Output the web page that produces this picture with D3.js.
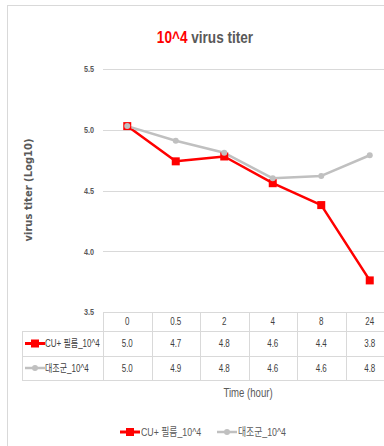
<!DOCTYPE html>
<html>
<head>
<meta charset="utf-8">
<script src="https://cdn.jsdelivr.net/npm/d3@7"></script>
<style>
  html, body { margin: 0; padding: 0; background: #fff; }
  svg { display: block; }
  text { font-family: "Liberation Sans", "Noto Sans CJK KR", sans-serif; }
  text.ytitle { font-family: "DejaVu Sans", sans-serif; }
</style>
</head>
<body>
<script>
// Time points (hours) and measured titers (log10)
const categories = ["0", "0.5", "2", "4", "8", "24"];
const seriesNames = ["CU+ 필름_10^4", "대조군_10^4"];
const cuFilm = [5.03, 4.74, 4.78, 4.56, 4.38, 3.76];
const control = [5.03, 4.91, 4.81, 4.60, 4.62, 4.79];
const yTicks = [3.5, 4.0, 4.5, 5.0, 5.5];

const W = 384, H = 446;
const NARROW = 0.8; // horizontal squeeze for a condensed face
const svg = d3.select("body").append("svg").attr("width", W).attr("height", H);

// condensed text drawn at (x, y)
function ntext(parent, x, y, txt, size, anchor, fill, weight) {
  return parent.append("text")
    .attr("transform", `translate(${x},${y}) scale(${NARROW},1)`)
    .attr("text-anchor", anchor).attr("font-size", size).attr("fill", fill)
    .attr("font-weight", weight || "normal").attr("dy", "0.35em").text(txt);
}

// chart frame
svg.append("rect").attr("x", 7.5).attr("y", 5.5).attr("width", 420).attr("height", 460)
  .attr("fill", "#fff").attr("stroke", "#d9d9d9").attr("stroke-width", 1);

const x = d3.scaleBand().domain(categories).range([103, 394]);
const y = d3.scaleLinear().domain([3.5, 5.5]).range([312, 69]);
const cx = d => x(d) + x.bandwidth() / 2;

// title
const title = svg.append("text").attr("transform", `translate(205,37) scale(${NARROW},1)`)
  .attr("text-anchor", "middle").attr("font-size", 17).attr("font-weight", "bold").attr("dy", "0.35em");
title.append("tspan").attr("fill", "#ff0000").text("10^4");
title.append("tspan").attr("fill", "#595959").text(" virus titer");

// gridlines
svg.append("g").selectAll("line").data(yTicks.slice(1)).join("line")
  .attr("x1", 103).attr("x2", 394)
  .attr("y1", d => Math.round(y(d)) + 0.5).attr("y2", d => Math.round(y(d)) + 0.5)
  .attr("stroke", "#d9d9d9").attr("stroke-width", 1);

// y axis labels
const yAxis = d3.axisLeft(y).tickValues(yTicks).tickFormat(d3.format(".1f")).tickSize(0).tickPadding(8);
const gy = svg.append("g").attr("transform", "translate(103,0)").call(yAxis);
gy.select(".domain").remove();
gy.selectAll("text").attr("font-size", 9).attr("font-weight", "bold")
  .attr("fill", "#595959").attr("dy", "0.32em")
  .attr("transform", `translate(-9,0) scale(${NARROW},1)`).attr("x", 0);

// y axis title
svg.append("text").attr("class", "ytitle").attr("transform", "translate(28,190) rotate(-90)")
  .attr("text-anchor", "middle")
  .attr("font-size", 10).attr("font-weight", "bold").attr("fill", "#595959")
  .attr("dy", "0.35em").text("virus titer (Log10)");

// lines
const line = d3.line().x((d, i) => cx(categories[i])).y(d => y(d));
svg.append("path").datum(cuFilm).attr("d", line).attr("fill", "none")
  .attr("stroke", "#ff0000").attr("stroke-width", 2.5).attr("stroke-linejoin", "round");
svg.append("path").datum(control).attr("d", line).attr("fill", "none")
  .attr("stroke", "#c0c0c0").attr("stroke-width", 2.5).attr("stroke-linejoin", "round");

// markers
svg.append("g").selectAll("rect").data(cuFilm).join("rect")
  .attr("x", (d, i) => cx(categories[i]) - 4).attr("y", d => y(d) - 4)
  .attr("width", 8).attr("height", 8).attr("fill", "#ff0000");
svg.append("g").selectAll("circle").data(control).join("circle")
  .attr("cx", (d, i) => cx(categories[i])).attr("cy", d => y(d)).attr("r", 3)
  .attr("fill", "#c0c0c0");

// data table
const tbl = svg.append("g");
const rowY = [312, 331, 356, 380];
const grid = "#d9d9d9";
tbl.append("line").attr("x1", 103).attr("x2", 394).attr("y1", rowY[0] + 0.5).attr("y2", rowY[0] + 0.5).attr("stroke", grid);
[1, 2, 3].forEach(k => {
  tbl.append("line").attr("x1", 22).attr("x2", 394).attr("y1", rowY[k] + 0.5).attr("y2", rowY[k] + 0.5).attr("stroke", grid);
});
tbl.append("line").attr("x1", 22.5).attr("x2", 22.5).attr("y1", rowY[1]).attr("y2", rowY[3]).attr("stroke", grid);
categories.forEach(c => {
  const xx = Math.round(x(c)) + 0.5;
  tbl.append("line").attr("x1", xx).attr("x2", xx).attr("y1", rowY[0]).attr("y2", rowY[3]).attr("stroke", grid);
});

// header row: time points
categories.forEach(c => ntext(tbl, cx(c), (rowY[0] + rowY[1]) / 2, c, 10, "middle", "#404040"));

// value rows
const fmt = d3.format(".1f");
[cuFilm, control].forEach((vals, r) => {
  const yc = (rowY[r + 1] + rowY[r + 2]) / 2;
  vals.forEach((v, i) => ntext(tbl, cx(categories[i]), yc, fmt(v), 10, "middle", "#404040"));
});

// legend key glyphs
function key(g, i, x0, yc) {
  if (i === 0) {
    g.append("line").attr("x1", x0).attr("x2", x0 + 20).attr("y1", yc).attr("y2", yc)
      .attr("stroke", "#ff0000").attr("stroke-width", 3);
    g.append("rect").attr("x", x0 + 6).attr("y", yc - 4).attr("width", 8).attr("height", 8).attr("fill", "#ff0000");
  } else {
    g.append("line").attr("x1", x0).attr("x2", x0 + 20).attr("y1", yc).attr("y2", yc)
      .attr("stroke", "#c0c0c0").attr("stroke-width", 2.5);
    g.append("circle").attr("cx", x0 + 10).attr("cy", yc).attr("r", 3).attr("fill", "#c0c0c0");
  }
}

// table row headers
seriesNames.forEach((name, i) => {
  const yc = (rowY[i + 1] + rowY[i + 2]) / 2;
  key(tbl, i, 25, yc);
  ntext(tbl, 45, yc, name, 10, "start", "#404040");
});

// x axis title
ntext(svg, 248, 393, "Time (hour)", 12, "middle", "#595959");

// legend
const legX = [120, 217];
seriesNames.forEach((name, i) => {
  key(svg, i, legX[i], 432);
  ntext(svg, legX[i] + 21, 432, name, 11, "start", "#595959");
});
</script>
</body>
</html>
